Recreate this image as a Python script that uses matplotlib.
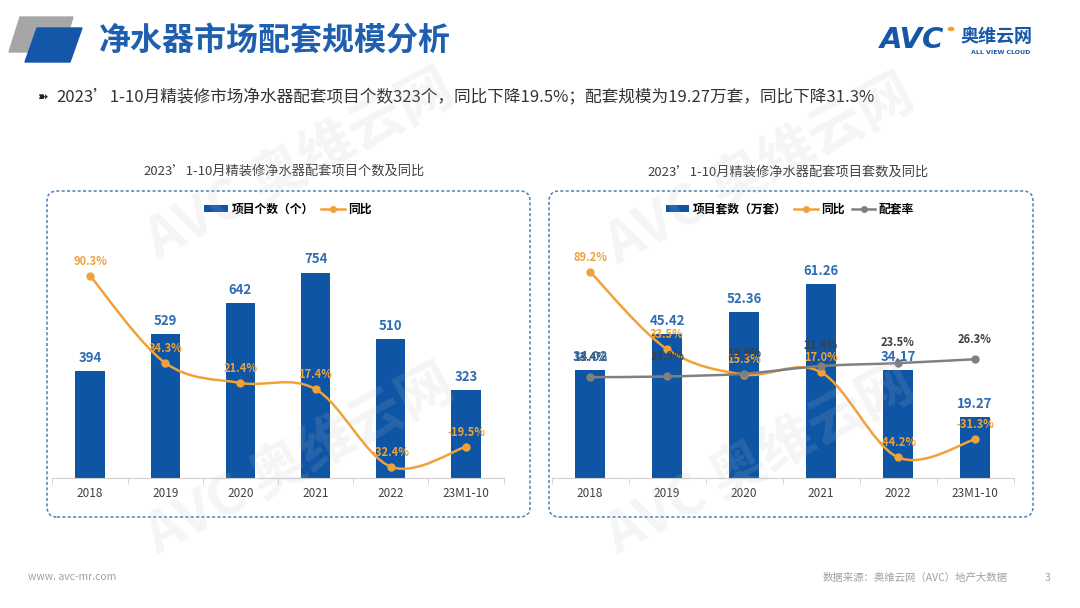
import matplotlib
matplotlib.use("Agg")
import matplotlib.pyplot as plt
from matplotlib.path import Path
from matplotlib.patches import PathPatch, Polygon, FancyBboxPatch, Patch
from matplotlib.lines import Line2D
from matplotlib.transforms import IdentityTransform
import numpy as np

plt.rcParams['font.family'] = ['Noto Sans CJK SC', 'DejaVu Sans']

categories = ["2018", "2019", "2020", "2021", "2022", "23M1-10"]

# left chart: project count and yoy
project_count = [394, 529, 642, 754, 510, 323]
count_yoy = [90.3, 34.3, 21.4, 17.4, -32.4, -19.5]

# right chart: project scale (10k sets), yoy and matching rate
project_sets = [34.02, 45.42, 52.36, 61.26, 34.17, 19.27]
sets_yoy = [89.2, 33.5, 15.3, 17.0, -44.2, -31.3]
match_rate = [13.4, 13.9, 15.9, 21.4, 23.5, 26.3]

BLUE = "#0E55A5"
BLUE_TXT = "#2F6DB3"
ORANGE = "#EFA23A"
GRAY = "#808080"
DARK = "#404040"

W, H = 1080, 608
fig = plt.figure(figsize=(W / 100, H / 100), dpi=100)


def fx(px):
    return px / W


def fy(py):
    return 1 - py / H


def smooth_path(xs, ys, t=1 / 6):
    # Catmull-Rom style smoothing like the office "smoothed line" option
    pts = list(zip(xs, ys))
    n = len(pts)
    verts = [pts[0]]
    codes = [Path.MOVETO]
    for i in range(n - 1):
        p0 = pts[i - 1] if i > 0 else pts[i]
        p1, p2 = pts[i], pts[i + 1]
        p3 = pts[i + 2] if i + 2 < n else pts[i + 1]
        c1 = (p1[0] + (p2[0] - p0[0]) * t, p1[1] + (p2[1] - p0[1]) * t)
        c2 = (p2[0] - (p3[0] - p1[0]) * t, p2[1] - (p3[1] - p1[1]) * t)
        verts += [c1, c2, p2]
        codes += [Path.CURVE4] * 3
    return Path(verts, codes)


def draw_chart(x0, x1, bars, bar_top, line_lim, lines, bar_fmt):
    ax = fig.add_axes([fx(x0), fy(478.3), fx(x1 - x0), fy(230) - fy(478.3)])
    x = np.arange(len(categories))
    ax.bar(x, bars, width=0.39, color=BLUE, zorder=2)
    ax.set_xlim(-0.5, len(categories) - 0.5)
    ax.set_ylim(0, bar_top)
    for s in ["top", "right", "left"]:
        ax.spines[s].set_visible(False)
    ax.spines["bottom"].set_color("#D0D0D0")
    ax.set_yticks([])
    ax.set_xticks(x)
    ax.set_xticklabels(categories, fontsize=8.5, color=DARK)
    ax.tick_params(axis="x", length=0, pad=6)
    ax.set_xticks(np.arange(-0.5, len(categories), 1), minor=True)
    ax.tick_params(axis="x", which="minor", length=4, color="#D0D0D0")
    ax.patch.set_alpha(0)

    ax2 = ax.twinx()
    ax2.set_ylim(*line_lim)
    ax2.set_yticks([])
    for s in ax2.spines.values():
        s.set_visible(False)
    for vals, color, txt_color, off in lines:
        ax2.add_patch(PathPatch(smooth_path(x, vals), fill=False, edgecolor=color,
                                lw=1.8, zorder=3))
        ax2.plot(x, vals, "o", color=color, ms=5, zorder=4)
        for i, v in enumerate(vals):
            ax2.annotate(f"{v:.1f}%", xy=(i, v), xytext=(0, off), textcoords="offset points",
                         ha="center", va="center", fontsize=8, color=txt_color,
                         fontweight="bold", zorder=5)
    for i, v in enumerate(bars):
        ax2.annotate(bar_fmt.format(v), xy=(i, v), xycoords=ax.transData, xytext=(0, 9.5),
                     textcoords="offset points", ha="center", va="center",
                     fontsize=9.5, color=BLUE_TXT, fontweight="bold", zorder=6)
    return ax


draw_chart(52.4, 503.6, project_count, 910.5, (-39.85, 119.66),
           [(count_yoy, ORANGE, ORANGE, 10.5)], "{:d}")
draw_chart(551.5, 1013.5, project_sets, 78.3, (-59.3, 119.2),
           [(sets_yoy, ORANGE, ORANGE, 10.5), (match_rate, GRAY, DARK, 14.5)], "{:.2f}")

# dashed frames
for bx0, bx1 in [(47, 530), (549, 1033)]:
    fig.patches.append(FancyBboxPatch((bx0, H - 517), bx1 - bx0, 517 - 191,
                                      boxstyle="round,pad=0,rounding_size=10",
                                      transform=IdentityTransform(), fill=False,
                                      edgecolor="#4F7FB0", lw=1.1, ls=(0, (2, 1.5))))

# chart titles
fig.text(fx(284), fy(171), "2023’1-10月精装修净水器配套项目个数及同比", ha="center",
         va="center", fontsize=9.5, color=DARK)
fig.text(fx(788), fy(172), "2023’1-10月精装修净水器配套项目套数及同比", ha="center",
         va="center", fontsize=9.5, color=DARK)

# legends
bar_h = Patch(facecolor=BLUE)
yoy_h = Line2D([], [], color=ORANGE, lw=1.8, marker="o", ms=4)
rate_h = Line2D([], [], color=GRAY, lw=1.8, marker="o", ms=4)
leg_kw = dict(loc="center", ncol=3, frameon=False, handlelength=2.0, handleheight=0.6,
              handletextpad=0.3, columnspacing=0.6, prop={"size": 8.5, "weight": "bold"})
fig.legend([bar_h, yoy_h], ["项目个数（个）", "同比"],
           bbox_to_anchor=(fx(288), fy(209)), **leg_kw)
fig.legend([bar_h, yoy_h, rate_h], ["项目套数（万套）", "同比", "配套率"],
           bbox_to_anchor=(fx(790), fy(209)), **leg_kw)

# header
fig.patches.append(Polygon([(fx(9), fy(52)), (fx(20), fy(17)), (fx(73), fy(17)), (fx(62), fy(52))],
                           closed=True, transform=fig.transFigure, color="#A6A6A6"))
fig.patches.append(Polygon([(fx(25), fy(62)), (fx(37), fy(28)), (fx(82), fy(28)), (fx(70), fy(62))],
                           closed=True, transform=fig.transFigure, color="#1457A8"))
fig.text(fx(99), fy(41), "净水器市场配套规模分析", ha="left", va="center", fontsize=23,
         fontweight="bold", color="#1F5FAF")
fig.text(fx(37), fy(98), "➽", ha="left", va="center", fontsize=9, color="#222222",
         family="DejaVu Sans")
fig.text(fx(56), fy(98), "2023’1-10月精装修市场净水器配套项目个数323个，同比下降19.5%；"
         "配套规模为19.27万套，同比下降31.3%", ha="left", va="center", fontsize=12,
         color="#333333")

# logo
fig.text(fx(880), fy(40), "AVC", ha="left", va="center", fontsize=21, fontweight="bold",
         style="italic", color="#1457A8", family="DejaVu Sans")
fig.text(fx(960), fy(36), "奥维云网", ha="left", va="center", fontsize=13, fontweight="bold",
         color="#1457A8")
fig.text(fx(1001), fy(53), "ALL VIEW CLOUD", ha="center", va="center", fontsize=4.5,
         fontweight="bold", color="#1457A8", family="DejaVu Sans")
fig.patches.append(plt.Circle((fx(951), fy(29)), 0.0025, transform=fig.transFigure,
                              color="#F0A030"))

# watermarks
for wx, wy in [(300, 165), (300, 460), (760, 170), (760, 460)]:
    fig.text(fx(wx), fy(wy), "AVC 奥维云网", ha="center", va="center", fontsize=40,
             fontweight="bold", rotation=28, color="#BBBBBB", alpha=0.15, zorder=10)

# footer
fig.text(fx(28), fy(577), "www. avc-mr.com", ha="left", va="center", fontsize=7.5,
         color="#A0A0A0")
fig.text(fx(1008), fy(578), "数据来源：奥维云网（AVC）地产大数据", ha="right", va="center",
         fontsize=7.5, color="#A0A0A0")
fig.text(fx(1048), fy(578), "3", ha="center", va="center", fontsize=7.5, color="#A0A0A0")

fig.savefig("out.png", dpi=100)
